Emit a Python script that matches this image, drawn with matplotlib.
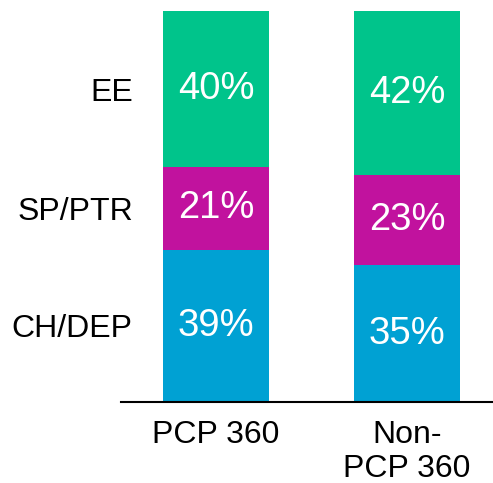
import matplotlib.pyplot as plt

plt.rcParams['font.family'] = ['Liberation Sans', 'DejaVu Sans']

# Share of each segment per group (%)
groups = ['PCP 360', 'Non-\nPCP 360']
segments = ['CH/DEP', 'SP/PTR', 'EE']
ch_dep = [39, 35]
sp_ptr = [21, 23]
ee = [40, 42]
colors = ['#00A1D3', '#C1129E', '#00C48B']

W, H = 493, 483
fig = plt.figure(figsize=(W / 100, H / 100), dpi=100)
ax = fig.add_axes([121 / W, 81 / H, 1 - 121 / W, 391 / H])

x = [0, 1]
bottom = [0, 0]
for vals, col in zip([ch_dep, sp_ptr, ee], colors):
    ax.bar(x, vals, bottom=bottom, width=0.555, color=col)
    for xi, v, b in zip(x, vals, bottom):
        ax.text(xi, b + v / 2, f'{v}%', ha='center', va='center',
                color='white', fontsize=27.5)
    bottom = [b + v for b, v in zip(bottom, vals)]

# segment names sit beside the first bar's segments
centers = []
b = 0
for vals in [ch_dep, sp_ptr, ee]:
    centers.append(b + vals[0] / 2)
    b += vals[0]
ax.set_yticks(centers)
ax.set_yticklabels(segments, fontsize=23)
ax.tick_params(axis='y', length=0, pad=-8.5)

ax.set_xticks(x)
ax.set_xticklabels(groups, fontsize=23, linespacing=1.15)
ax.tick_params(axis='x', length=0, pad=13)

ax.set_xlim(-0.497, 1.45)
ax.set_ylim(0, 100)
for s in ['top', 'right', 'left']:
    ax.spines[s].set_visible(False)
ax.spines['bottom'].set_linewidth(1.5)
ax.spines['bottom'].set_color('black')

fig.savefig('out.png', dpi=100)
